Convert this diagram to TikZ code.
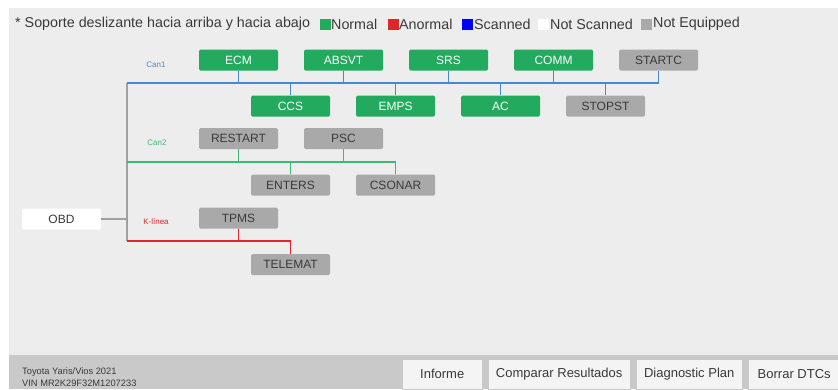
\documentclass[tikz,border=0pt]{standalone}
\usepackage{fontspec}
\setmainfont{Liberation Sans}
\definecolor{bg}{HTML}{EDEDED}
\definecolor{bar}{HTML}{C9C9C9}
\definecolor{okgreen}{HTML}{22AA5E}
\definecolor{negray}{HTML}{A9A9A9}
\definecolor{txtdark}{HTML}{3A3A3A}
\definecolor{busblue}{HTML}{4A88CC}
\definecolor{busgreen}{HTML}{3DBB6E}
\definecolor{busred}{HTML}{E0262B}
\definecolor{trunkgray}{HTML}{A0A0A0}
\definecolor{btn}{HTML}{F4F4F4}
\begin{document}
\begin{tikzpicture}[x=1pt,y=-1pt,
  ecu/.style={rounded corners=1.5pt, minimum width=79pt, minimum height=21pt, inner sep=0pt, font=\fontsize{12}{12}\selectfont},
  okecu/.style={ecu, fill=okgreen, text=white},
  neecu/.style={ecu, fill=negray, text=txtdark},
  bus/.style={line width=1.8pt},
  lbl/.style={font=\fontsize{8}{8}\selectfont, inner sep=0pt},
  legsq/.style={minimum size=11pt, inner sep=0pt},
  legtxt/.style={anchor=west, text=txtdark, font=\fontsize{14.3}{14.3}\selectfont, inner sep=0pt},
  btnbox/.style={fill=btn, draw=bar, minimum height=30pt, inner sep=0pt, text=txtdark, font=\fontsize{13}{13}\selectfont, anchor=north west}]
\useasboundingbox (0,0) rectangle (838,389);
\fill[white] (0,0) rectangle (838,389);
\fill[bg] (9,8) rectangle (838,389);
\fill[bar] (9,355) rectangle (838,389);

% header / legend
\node[legtxt] (hdr) at (15,24) {* Soporte deslizante hacia arriba y hacia abajo};
\node[legsq, fill=okgreen] (sqg) at (325,24) {};
\node[legtxt] (lgn) at (331,24) {Normal};
\node[legsq, fill=busred] (sqr) at (393,24) {};
\node[legtxt] (lga) at (399,24) {Anormal};
\node[legsq, fill=blue] (sqb) at (467.5,24) {};
\node[legtxt] (lgs) at (474,24) {Scanned};
\node[legsq, fill=white] (sqw) at (543.5,24) {};
\node[legtxt] (lgns) at (550,24) {Not Scanned};
\node[legsq, fill=negray] (sqa) at (646.5,24) {};
\node[legtxt] (lgne) at (653,24) {Not Equipped};

% bus labels
\node[lbl, text=busblue] (l1) at (156,65) {Can1};
\node[lbl, text=busgreen] (l2) at (157,143) {Can2};
\node[lbl, text=busred] (l3) at (156,222) {K-línea};

% Can1 ECUs
\node[okecu] (ECM) at (238.5,60) {ECM};
\node[okecu] (ABSVT) at (343.5,60) {ABSVT};
\node[okecu] (SRS) at (448.5,60) {SRS};
\node[okecu] (COMM) at (553.5,60) {COMM};
\node[neecu] (STARTC) at (658.5,60) {STARTC};
\node[okecu] (CCS) at (290.5,106) {CCS};
\node[okecu] (EMPS) at (395.5,106) {EMPS};
\node[okecu] (AC) at (500.5,106) {AC};
\node[neecu] (STOPST) at (605.5,106) {STOPST};

% Can2 ECUs
\node[neecu] (RESTART) at (238.5,138.5) {RESTART};
\node[neecu] (PSC) at (343.5,138.5) {PSC};
\node[neecu] (ENTERS) at (290.5,185) {ENTERS};
\node[neecu] (CSONAR) at (395.5,185) {CSONAR};

% K-line ECUs
\node[neecu] (TPMS) at (238.5,218) {TPMS};
\node[neecu] (TELEMAT) at (290.5,264.5) {TELEMAT};

% OBD
\node[ecu, fill=white, text=txtdark] (OBD) at (61.5,219) {OBD};

% bus coordinates
\coordinate (c1) at (127,83);
\coordinate (c2) at (127,162);
\coordinate (c3) at (127,241);

% trunk
\draw[bus, trunkgray] (c1) -- (c3);
\draw[bus, trunkgray] (OBD.east) -- (OBD.east -| c1);

% Can1
\draw[bus, busblue] (c1) -- (c1 -| STARTC) -- (STARTC.south);
\foreach \n in {ECM,ABSVT,SRS,COMM} \draw[bus, busblue] (\n.south) -- (\n |- c1);
\foreach \n in {CCS,EMPS,AC,STOPST} \draw[bus, busblue] (\n.north) -- (\n |- c1);

% Can2
\draw[bus, busgreen] (c2) -- (c2 -| CSONAR) -- (CSONAR.north);
\foreach \n in {RESTART,PSC} \draw[bus, busgreen] (\n.south) -- (\n |- c2);
\draw[bus, busgreen] (ENTERS.north) -- (ENTERS |- c2);

% K-line
\draw[bus, busred] (c3) -- (c3 -| TELEMAT) -- (TELEMAT.north);
\draw[bus, busred] (TPMS.south) -- (TPMS |- c3);

% bottom bar
\node[anchor=west, text=txtdark, font=\fontsize{9.3}{9.3}\selectfont, inner sep=0pt] (car) at (22,372) {Toyota Yaris/Vios 2021};
\node[anchor=west, text=txtdark, font=\fontsize{9.3}{9.3}\selectfont, inner sep=0pt] (vin) at (22,383) {VIN MR2K29F32M1207233};
\node[btnbox, minimum width=80pt] (b1) at (402,359) {Informe};
\node[btnbox, minimum width=142pt] (b2) at (488,359) {Comparar Resultados};
\node[btnbox, minimum width=106pt] (b3) at (636,359) {Diagnostic Plan};
\node[btnbox, minimum width=92pt] (b4) at (748,359) {Borrar DTCs};
\end{tikzpicture}
\end{document}
